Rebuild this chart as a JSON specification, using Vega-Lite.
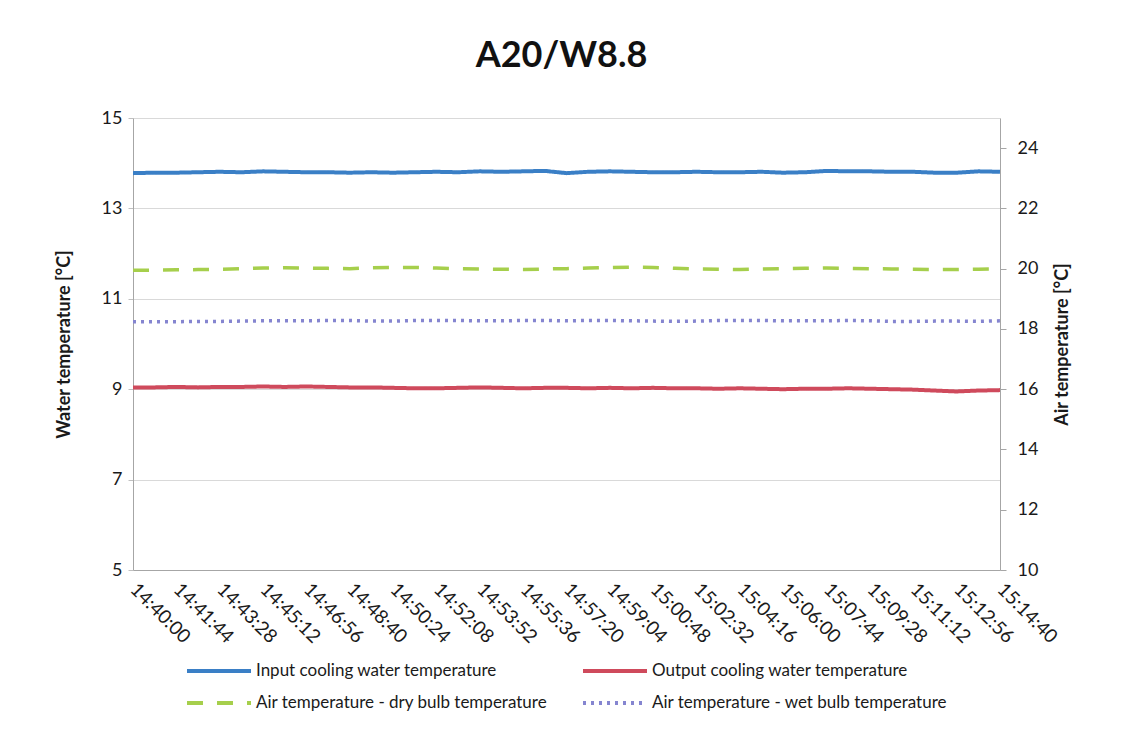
{
  "$schema": "https://vega.github.io/schema/vega-lite/v6.json",
  "width": 867,
  "height": 452,
  "autosize": {"type": "none"},
  "padding": {"left": 133, "top": 118, "right": 125, "bottom": 163},
  "background": "white",
  "title": {"text": "A20/W8.8", "font": "Lato", "fontSize": 36, "fontWeight": "bold", "color": "#111111", "anchor": "middle", "offset": 34, "dx": -5},
  "config": {
    "font": "Lato",
    "view": {"stroke": null},
    "legend": {"labelFont": "Lato", "labelFontSize": 17, "labelColor": "#1a1a1a"}
  },
  "data": {
    "values": [
      {"t": "2020-01-01T14:40:00", "s": "Input cooling water temperature", "v": 13.78},
      {"t": "2020-01-01T14:40:52", "s": "Input cooling water temperature", "v": 13.79},
      {"t": "2020-01-01T14:41:44", "s": "Input cooling water temperature", "v": 13.79},
      {"t": "2020-01-01T14:42:36", "s": "Input cooling water temperature", "v": 13.80},
      {"t": "2020-01-01T14:43:28", "s": "Input cooling water temperature", "v": 13.81},
      {"t": "2020-01-01T14:44:20", "s": "Input cooling water temperature", "v": 13.80},
      {"t": "2020-01-01T14:45:12", "s": "Input cooling water temperature", "v": 13.82},
      {"t": "2020-01-01T14:46:04", "s": "Input cooling water temperature", "v": 13.81},
      {"t": "2020-01-01T14:46:56", "s": "Input cooling water temperature", "v": 13.80},
      {"t": "2020-01-01T14:47:48", "s": "Input cooling water temperature", "v": 13.80},
      {"t": "2020-01-01T14:48:40", "s": "Input cooling water temperature", "v": 13.79},
      {"t": "2020-01-01T14:49:32", "s": "Input cooling water temperature", "v": 13.80},
      {"t": "2020-01-01T14:50:24", "s": "Input cooling water temperature", "v": 13.79},
      {"t": "2020-01-01T14:51:16", "s": "Input cooling water temperature", "v": 13.80},
      {"t": "2020-01-01T14:52:08", "s": "Input cooling water temperature", "v": 13.81},
      {"t": "2020-01-01T14:53:00", "s": "Input cooling water temperature", "v": 13.80},
      {"t": "2020-01-01T14:53:52", "s": "Input cooling water temperature", "v": 13.82},
      {"t": "2020-01-01T14:54:44", "s": "Input cooling water temperature", "v": 13.81},
      {"t": "2020-01-01T14:55:36", "s": "Input cooling water temperature", "v": 13.82},
      {"t": "2020-01-01T14:56:28", "s": "Input cooling water temperature", "v": 13.83},
      {"t": "2020-01-01T14:57:20", "s": "Input cooling water temperature", "v": 13.78},
      {"t": "2020-01-01T14:58:12", "s": "Input cooling water temperature", "v": 13.81},
      {"t": "2020-01-01T14:59:04", "s": "Input cooling water temperature", "v": 13.82},
      {"t": "2020-01-01T14:59:56", "s": "Input cooling water temperature", "v": 13.81},
      {"t": "2020-01-01T15:00:48", "s": "Input cooling water temperature", "v": 13.80},
      {"t": "2020-01-01T15:01:40", "s": "Input cooling water temperature", "v": 13.80},
      {"t": "2020-01-01T15:02:32", "s": "Input cooling water temperature", "v": 13.81},
      {"t": "2020-01-01T15:03:24", "s": "Input cooling water temperature", "v": 13.80},
      {"t": "2020-01-01T15:04:16", "s": "Input cooling water temperature", "v": 13.80},
      {"t": "2020-01-01T15:05:08", "s": "Input cooling water temperature", "v": 13.81},
      {"t": "2020-01-01T15:06:00", "s": "Input cooling water temperature", "v": 13.79},
      {"t": "2020-01-01T15:06:52", "s": "Input cooling water temperature", "v": 13.80},
      {"t": "2020-01-01T15:07:44", "s": "Input cooling water temperature", "v": 13.83},
      {"t": "2020-01-01T15:08:36", "s": "Input cooling water temperature", "v": 13.82},
      {"t": "2020-01-01T15:09:28", "s": "Input cooling water temperature", "v": 13.82},
      {"t": "2020-01-01T15:10:20", "s": "Input cooling water temperature", "v": 13.81},
      {"t": "2020-01-01T15:11:12", "s": "Input cooling water temperature", "v": 13.81},
      {"t": "2020-01-01T15:12:04", "s": "Input cooling water temperature", "v": 13.79},
      {"t": "2020-01-01T15:12:56", "s": "Input cooling water temperature", "v": 13.79},
      {"t": "2020-01-01T15:13:48", "s": "Input cooling water temperature", "v": 13.82},
      {"t": "2020-01-01T15:14:40", "s": "Input cooling water temperature", "v": 13.81},

      {"t": "2020-01-01T14:40:00", "s": "Output cooling water temperature", "v": 9.04},
      {"t": "2020-01-01T14:40:52", "s": "Output cooling water temperature", "v": 9.04},
      {"t": "2020-01-01T14:41:44", "s": "Output cooling water temperature", "v": 9.05},
      {"t": "2020-01-01T14:42:36", "s": "Output cooling water temperature", "v": 9.04},
      {"t": "2020-01-01T14:43:28", "s": "Output cooling water temperature", "v": 9.05},
      {"t": "2020-01-01T14:44:20", "s": "Output cooling water temperature", "v": 9.05},
      {"t": "2020-01-01T14:45:12", "s": "Output cooling water temperature", "v": 9.06},
      {"t": "2020-01-01T14:46:04", "s": "Output cooling water temperature", "v": 9.05},
      {"t": "2020-01-01T14:46:56", "s": "Output cooling water temperature", "v": 9.06},
      {"t": "2020-01-01T14:47:48", "s": "Output cooling water temperature", "v": 9.05},
      {"t": "2020-01-01T14:48:40", "s": "Output cooling water temperature", "v": 9.04},
      {"t": "2020-01-01T14:49:32", "s": "Output cooling water temperature", "v": 9.04},
      {"t": "2020-01-01T14:50:24", "s": "Output cooling water temperature", "v": 9.03},
      {"t": "2020-01-01T14:51:16", "s": "Output cooling water temperature", "v": 9.02},
      {"t": "2020-01-01T14:52:08", "s": "Output cooling water temperature", "v": 9.02},
      {"t": "2020-01-01T14:53:00", "s": "Output cooling water temperature", "v": 9.03},
      {"t": "2020-01-01T14:53:52", "s": "Output cooling water temperature", "v": 9.04},
      {"t": "2020-01-01T14:54:44", "s": "Output cooling water temperature", "v": 9.03},
      {"t": "2020-01-01T14:55:36", "s": "Output cooling water temperature", "v": 9.02},
      {"t": "2020-01-01T14:56:28", "s": "Output cooling water temperature", "v": 9.03},
      {"t": "2020-01-01T14:57:20", "s": "Output cooling water temperature", "v": 9.03},
      {"t": "2020-01-01T14:58:12", "s": "Output cooling water temperature", "v": 9.02},
      {"t": "2020-01-01T14:59:04", "s": "Output cooling water temperature", "v": 9.03},
      {"t": "2020-01-01T14:59:56", "s": "Output cooling water temperature", "v": 9.02},
      {"t": "2020-01-01T15:00:48", "s": "Output cooling water temperature", "v": 9.03},
      {"t": "2020-01-01T15:01:40", "s": "Output cooling water temperature", "v": 9.02},
      {"t": "2020-01-01T15:02:32", "s": "Output cooling water temperature", "v": 9.02},
      {"t": "2020-01-01T15:03:24", "s": "Output cooling water temperature", "v": 9.01},
      {"t": "2020-01-01T15:04:16", "s": "Output cooling water temperature", "v": 9.02},
      {"t": "2020-01-01T15:05:08", "s": "Output cooling water temperature", "v": 9.01},
      {"t": "2020-01-01T15:06:00", "s": "Output cooling water temperature", "v": 9.00},
      {"t": "2020-01-01T15:06:52", "s": "Output cooling water temperature", "v": 9.01},
      {"t": "2020-01-01T15:07:44", "s": "Output cooling water temperature", "v": 9.01},
      {"t": "2020-01-01T15:08:36", "s": "Output cooling water temperature", "v": 9.02},
      {"t": "2020-01-01T15:09:28", "s": "Output cooling water temperature", "v": 9.01},
      {"t": "2020-01-01T15:10:20", "s": "Output cooling water temperature", "v": 9.00},
      {"t": "2020-01-01T15:11:12", "s": "Output cooling water temperature", "v": 8.99},
      {"t": "2020-01-01T15:12:04", "s": "Output cooling water temperature", "v": 8.97},
      {"t": "2020-01-01T15:12:56", "s": "Output cooling water temperature", "v": 8.95},
      {"t": "2020-01-01T15:13:48", "s": "Output cooling water temperature", "v": 8.97},
      {"t": "2020-01-01T15:14:40", "s": "Output cooling water temperature", "v": 8.98},

      {"t": "2020-01-01T14:40:00", "s": "Air temperature - dry bulb temperature", "v": 19.95},
      {"t": "2020-01-01T14:40:52", "s": "Air temperature - dry bulb temperature", "v": 19.95},
      {"t": "2020-01-01T14:41:44", "s": "Air temperature - dry bulb temperature", "v": 19.96},
      {"t": "2020-01-01T14:42:36", "s": "Air temperature - dry bulb temperature", "v": 19.97},
      {"t": "2020-01-01T14:43:28", "s": "Air temperature - dry bulb temperature", "v": 19.98},
      {"t": "2020-01-01T14:44:20", "s": "Air temperature - dry bulb temperature", "v": 20.00},
      {"t": "2020-01-01T14:45:12", "s": "Air temperature - dry bulb temperature", "v": 20.02},
      {"t": "2020-01-01T14:46:04", "s": "Air temperature - dry bulb temperature", "v": 20.03},
      {"t": "2020-01-01T14:46:56", "s": "Air temperature - dry bulb temperature", "v": 20.02},
      {"t": "2020-01-01T14:47:48", "s": "Air temperature - dry bulb temperature", "v": 20.01},
      {"t": "2020-01-01T14:48:40", "s": "Air temperature - dry bulb temperature", "v": 20.00},
      {"t": "2020-01-01T14:49:32", "s": "Air temperature - dry bulb temperature", "v": 20.03},
      {"t": "2020-01-01T14:50:24", "s": "Air temperature - dry bulb temperature", "v": 20.04},
      {"t": "2020-01-01T14:51:16", "s": "Air temperature - dry bulb temperature", "v": 20.04},
      {"t": "2020-01-01T14:52:08", "s": "Air temperature - dry bulb temperature", "v": 20.02},
      {"t": "2020-01-01T14:53:00", "s": "Air temperature - dry bulb temperature", "v": 20.00},
      {"t": "2020-01-01T14:53:52", "s": "Air temperature - dry bulb temperature", "v": 19.99},
      {"t": "2020-01-01T14:54:44", "s": "Air temperature - dry bulb temperature", "v": 19.98},
      {"t": "2020-01-01T14:55:36", "s": "Air temperature - dry bulb temperature", "v": 19.97},
      {"t": "2020-01-01T14:56:28", "s": "Air temperature - dry bulb temperature", "v": 19.99},
      {"t": "2020-01-01T14:57:20", "s": "Air temperature - dry bulb temperature", "v": 20.00},
      {"t": "2020-01-01T14:58:12", "s": "Air temperature - dry bulb temperature", "v": 20.02},
      {"t": "2020-01-01T14:59:04", "s": "Air temperature - dry bulb temperature", "v": 20.04},
      {"t": "2020-01-01T14:59:56", "s": "Air temperature - dry bulb temperature", "v": 20.05},
      {"t": "2020-01-01T15:00:48", "s": "Air temperature - dry bulb temperature", "v": 20.04},
      {"t": "2020-01-01T15:01:40", "s": "Air temperature - dry bulb temperature", "v": 20.01},
      {"t": "2020-01-01T15:02:32", "s": "Air temperature - dry bulb temperature", "v": 19.99},
      {"t": "2020-01-01T15:03:24", "s": "Air temperature - dry bulb temperature", "v": 19.98},
      {"t": "2020-01-01T15:04:16", "s": "Air temperature - dry bulb temperature", "v": 19.97},
      {"t": "2020-01-01T15:05:08", "s": "Air temperature - dry bulb temperature", "v": 19.99},
      {"t": "2020-01-01T15:06:00", "s": "Air temperature - dry bulb temperature", "v": 20.00},
      {"t": "2020-01-01T15:06:52", "s": "Air temperature - dry bulb temperature", "v": 20.01},
      {"t": "2020-01-01T15:07:44", "s": "Air temperature - dry bulb temperature", "v": 20.02},
      {"t": "2020-01-01T15:08:36", "s": "Air temperature - dry bulb temperature", "v": 20.01},
      {"t": "2020-01-01T15:09:28", "s": "Air temperature - dry bulb temperature", "v": 20.00},
      {"t": "2020-01-01T15:10:20", "s": "Air temperature - dry bulb temperature", "v": 19.99},
      {"t": "2020-01-01T15:11:12", "s": "Air temperature - dry bulb temperature", "v": 19.98},
      {"t": "2020-01-01T15:12:04", "s": "Air temperature - dry bulb temperature", "v": 19.97},
      {"t": "2020-01-01T15:12:56", "s": "Air temperature - dry bulb temperature", "v": 19.97},
      {"t": "2020-01-01T15:13:48", "s": "Air temperature - dry bulb temperature", "v": 19.98},
      {"t": "2020-01-01T15:14:40", "s": "Air temperature - dry bulb temperature", "v": 19.99},

      {"t": "2020-01-01T14:40:00", "s": "Air temperature - wet bulb temperature", "v": 18.24},
      {"t": "2020-01-01T14:40:52", "s": "Air temperature - wet bulb temperature", "v": 18.24},
      {"t": "2020-01-01T14:41:44", "s": "Air temperature - wet bulb temperature", "v": 18.24},
      {"t": "2020-01-01T14:42:36", "s": "Air temperature - wet bulb temperature", "v": 18.25},
      {"t": "2020-01-01T14:43:28", "s": "Air temperature - wet bulb temperature", "v": 18.25},
      {"t": "2020-01-01T14:44:20", "s": "Air temperature - wet bulb temperature", "v": 18.26},
      {"t": "2020-01-01T14:45:12", "s": "Air temperature - wet bulb temperature", "v": 18.27},
      {"t": "2020-01-01T14:46:04", "s": "Air temperature - wet bulb temperature", "v": 18.27},
      {"t": "2020-01-01T14:46:56", "s": "Air temperature - wet bulb temperature", "v": 18.27},
      {"t": "2020-01-01T14:47:48", "s": "Air temperature - wet bulb temperature", "v": 18.28},
      {"t": "2020-01-01T14:48:40", "s": "Air temperature - wet bulb temperature", "v": 18.28},
      {"t": "2020-01-01T14:49:32", "s": "Air temperature - wet bulb temperature", "v": 18.26},
      {"t": "2020-01-01T14:50:24", "s": "Air temperature - wet bulb temperature", "v": 18.26},
      {"t": "2020-01-01T14:51:16", "s": "Air temperature - wet bulb temperature", "v": 18.28},
      {"t": "2020-01-01T14:52:08", "s": "Air temperature - wet bulb temperature", "v": 18.28},
      {"t": "2020-01-01T14:53:00", "s": "Air temperature - wet bulb temperature", "v": 18.28},
      {"t": "2020-01-01T14:53:52", "s": "Air temperature - wet bulb temperature", "v": 18.27},
      {"t": "2020-01-01T14:54:44", "s": "Air temperature - wet bulb temperature", "v": 18.27},
      {"t": "2020-01-01T14:55:36", "s": "Air temperature - wet bulb temperature", "v": 18.28},
      {"t": "2020-01-01T14:56:28", "s": "Air temperature - wet bulb temperature", "v": 18.28},
      {"t": "2020-01-01T14:57:20", "s": "Air temperature - wet bulb temperature", "v": 18.27},
      {"t": "2020-01-01T14:58:12", "s": "Air temperature - wet bulb temperature", "v": 18.28},
      {"t": "2020-01-01T14:59:04", "s": "Air temperature - wet bulb temperature", "v": 18.28},
      {"t": "2020-01-01T14:59:56", "s": "Air temperature - wet bulb temperature", "v": 18.27},
      {"t": "2020-01-01T15:00:48", "s": "Air temperature - wet bulb temperature", "v": 18.26},
      {"t": "2020-01-01T15:01:40", "s": "Air temperature - wet bulb temperature", "v": 18.25},
      {"t": "2020-01-01T15:02:32", "s": "Air temperature - wet bulb temperature", "v": 18.26},
      {"t": "2020-01-01T15:03:24", "s": "Air temperature - wet bulb temperature", "v": 18.28},
      {"t": "2020-01-01T15:04:16", "s": "Air temperature - wet bulb temperature", "v": 18.28},
      {"t": "2020-01-01T15:05:08", "s": "Air temperature - wet bulb temperature", "v": 18.28},
      {"t": "2020-01-01T15:06:00", "s": "Air temperature - wet bulb temperature", "v": 18.27},
      {"t": "2020-01-01T15:06:52", "s": "Air temperature - wet bulb temperature", "v": 18.27},
      {"t": "2020-01-01T15:07:44", "s": "Air temperature - wet bulb temperature", "v": 18.27},
      {"t": "2020-01-01T15:08:36", "s": "Air temperature - wet bulb temperature", "v": 18.28},
      {"t": "2020-01-01T15:09:28", "s": "Air temperature - wet bulb temperature", "v": 18.27},
      {"t": "2020-01-01T15:10:20", "s": "Air temperature - wet bulb temperature", "v": 18.25},
      {"t": "2020-01-01T15:11:12", "s": "Air temperature - wet bulb temperature", "v": 18.25},
      {"t": "2020-01-01T15:12:04", "s": "Air temperature - wet bulb temperature", "v": 18.26},
      {"t": "2020-01-01T15:12:56", "s": "Air temperature - wet bulb temperature", "v": 18.26},
      {"t": "2020-01-01T15:13:48", "s": "Air temperature - wet bulb temperature", "v": 18.25},
      {"t": "2020-01-01T15:14:40", "s": "Air temperature - wet bulb temperature", "v": 18.27}
    ]
  },
  "encoding": {
    "x": {
      "field": "t",
      "type": "temporal",
      "scale": {"domain": [
        {"year": 2020, "month": 1, "date": 1, "hours": 14, "minutes": 40, "seconds": 0},
        {"year": 2020, "month": 1, "date": 1, "hours": 15, "minutes": 14, "seconds": 40}
      ]},
      "axis": {
        "title": null,
        "format": "%H:%M:%S",
        "values": [
          {"year": 2020, "month": 1, "date": 1, "hours": 14, "minutes": 40, "seconds": 0},
          {"year": 2020, "month": 1, "date": 1, "hours": 14, "minutes": 41, "seconds": 44},
          {"year": 2020, "month": 1, "date": 1, "hours": 14, "minutes": 43, "seconds": 28},
          {"year": 2020, "month": 1, "date": 1, "hours": 14, "minutes": 45, "seconds": 12},
          {"year": 2020, "month": 1, "date": 1, "hours": 14, "minutes": 46, "seconds": 56},
          {"year": 2020, "month": 1, "date": 1, "hours": 14, "minutes": 48, "seconds": 40},
          {"year": 2020, "month": 1, "date": 1, "hours": 14, "minutes": 50, "seconds": 24},
          {"year": 2020, "month": 1, "date": 1, "hours": 14, "minutes": 52, "seconds": 8},
          {"year": 2020, "month": 1, "date": 1, "hours": 14, "minutes": 53, "seconds": 52},
          {"year": 2020, "month": 1, "date": 1, "hours": 14, "minutes": 55, "seconds": 36},
          {"year": 2020, "month": 1, "date": 1, "hours": 14, "minutes": 57, "seconds": 20},
          {"year": 2020, "month": 1, "date": 1, "hours": 14, "minutes": 59, "seconds": 4},
          {"year": 2020, "month": 1, "date": 1, "hours": 15, "minutes": 0, "seconds": 48},
          {"year": 2020, "month": 1, "date": 1, "hours": 15, "minutes": 2, "seconds": 32},
          {"year": 2020, "month": 1, "date": 1, "hours": 15, "minutes": 4, "seconds": 16},
          {"year": 2020, "month": 1, "date": 1, "hours": 15, "minutes": 6, "seconds": 0},
          {"year": 2020, "month": 1, "date": 1, "hours": 15, "minutes": 7, "seconds": 44},
          {"year": 2020, "month": 1, "date": 1, "hours": 15, "minutes": 9, "seconds": 28},
          {"year": 2020, "month": 1, "date": 1, "hours": 15, "minutes": 11, "seconds": 12},
          {"year": 2020, "month": 1, "date": 1, "hours": 15, "minutes": 12, "seconds": 56},
          {"year": 2020, "month": 1, "date": 1, "hours": 15, "minutes": 14, "seconds": 40}
        ],
        "labelAngle": 45,
        "labelAlign": "left",
        "labelBaseline": "middle",
        "labelFontSize": 19,
        "labelColor": "#1a1a1a",
        "labelPadding": 16,
        "labelOverlap": false,
        "labelFlush": false,
        "labelBound": false,
        "grid": false,
        "ticks": false,
        "domainColor": "#a6a6a6",
        "domainWidth": 1
      }
    },
    "color": {
      "field": "s",
      "type": "nominal",
      "scale": {
        "domain": ["Input cooling water temperature", "Output cooling water temperature", "Air temperature - dry bulb temperature", "Air temperature - wet bulb temperature"],
        "range": ["#3a7fc6", "#cf4a5c", "#a6cf4c", "#8585d0"]
      },
      "legend": {
        "title": null,
        "orient": "none",
        "legendX": 76,
        "legendY": 543,
        "direction": "horizontal",
        "columns": 2,
        "columnPadding": 27,
        "rowPadding": 14,
        "symbolType": "M-4,0H4",
        "symbolSize": 256,
        "symbolStrokeWidth": 4,
        "labelOffset": 27,
        "labelLimit": 400
      }
    },
    "strokeDash": {
      "field": "s",
      "type": "nominal",
      "scale": {
        "domain": ["Input cooling water temperature", "Output cooling water temperature", "Air temperature - dry bulb temperature", "Air temperature - wet bulb temperature"],
        "range": [[1, 0], [1, 0], [16, 14], [3, 5]]
      },
      "legend": {
        "title": null,
        "orient": "none",
        "legendX": 76,
        "legendY": 543,
        "direction": "horizontal",
        "columns": 2,
        "columnPadding": 27,
        "rowPadding": 14,
        "symbolType": "M-4,0H4",
        "symbolSize": 256,
        "symbolStrokeWidth": 4,
        "labelOffset": 27,
        "labelLimit": 400
      }
    }
  },
  "layer": [
    {
      "transform": [{"filter": {"field": "s", "oneOf": ["Input cooling water temperature", "Output cooling water temperature"]}}],
      "mark": {"type": "line", "strokeWidth": 4},
      "encoding": {
        "y": {
          "field": "v",
          "type": "quantitative",
          "scale": {"domain": [5, 15], "nice": false, "zero": false},
          "axis": {
            "orient": "left",
            "title": "Water temperature [°C]",
            "titleFontSize": 18,
            "titleFontWeight": "bold",
            "titleColor": "#1a1a1a",
            "titlePadding": 28,
            "values": [5, 7, 9, 11, 13, 15],
            "labelFontSize": 18,
            "labelColor": "#1a1a1a",
            "labelPadding": 6,
            "grid": true,
            "gridColor": "#d9d9d9",
            "gridWidth": 1,
            "tickColor": "#c0c0c0",
            "tickSize": 5,
            "domainColor": "#a6a6a6"
          }
        }
      }
    },
    {
      "transform": [{"filter": {"field": "s", "oneOf": ["Air temperature - dry bulb temperature", "Air temperature - wet bulb temperature"]}}],
      "mark": {"type": "line", "strokeWidth": 3.5},
      "encoding": {
        "y": {
          "field": "v",
          "type": "quantitative",
          "scale": {"domain": [10, 25], "nice": false, "zero": false},
          "axis": {
            "orient": "right",
            "title": "Air temperature [°C]",
            "titleAngle": 270,
            "titleFontSize": 18,
            "titleFontWeight": "bold",
            "titleColor": "#1a1a1a",
            "titlePadding": 34,
            "values": [10, 12, 14, 16, 18, 20, 22, 24],
            "labelFontSize": 18,
            "labelColor": "#1a1a1a",
            "labelPadding": 11,
            "grid": false,
            "tickColor": "#a6a6a6",
            "tickSize": 6,
            "domainColor": "#a6a6a6"
          }
        }
      }
    }
  ],
  "resolve": {"scale": {"y": "independent"}}
}
